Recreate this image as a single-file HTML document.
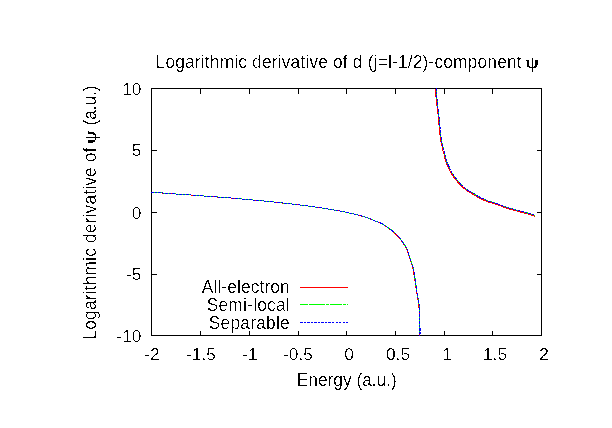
<!DOCTYPE html>
<html><head><meta charset="utf-8"><title>Logarithmic derivative</title>
<style>html,body{margin:0;padding:0;background:#fff}svg{display:block}text{font-family:"Liberation Sans",sans-serif;font-size:17.33px;fill:#000}</style></head><body>
<svg width="612" height="428" viewBox="0 0 612 428">
<rect width="612" height="428" fill="#fff"/>
<g shape-rendering="crispEdges" fill="#000">
<rect x="151" y="88" width="391" height="1"/><rect x="151" y="335" width="391" height="1"/><rect x="151" y="88" width="1" height="248"/><rect x="541" y="88" width="1" height="248"/>
<rect x="200" y="88" width="1" height="6"/><rect x="200" y="331" width="1" height="5"/>
<rect x="249" y="88" width="1" height="6"/><rect x="249" y="331" width="1" height="5"/>
<rect x="298" y="88" width="1" height="6"/><rect x="298" y="331" width="1" height="5"/>
<rect x="346" y="88" width="1" height="6"/><rect x="346" y="331" width="1" height="5"/>
<rect x="395" y="88" width="1" height="6"/><rect x="395" y="331" width="1" height="5"/>
<rect x="444" y="88" width="1" height="6"/><rect x="444" y="331" width="1" height="5"/>
<rect x="492" y="88" width="1" height="6"/><rect x="492" y="331" width="1" height="5"/>
<rect x="151" y="150" width="6" height="1"/><rect x="537" y="150" width="5" height="1"/>
<rect x="151" y="212" width="6" height="1"/><rect x="537" y="212" width="5" height="1"/>
<rect x="151" y="274" width="6" height="1"/><rect x="537" y="274" width="5" height="1"/>
</g>
<g fill="none" stroke-width="1" shape-rendering="crispEdges">
<path d="M151.1,192.3 L152.5,192.4 L153.9,192.5 L155.2,192.6 L156.6,192.7 L158.0,192.8 L159.4,192.9 L160.7,192.9 L162.1,193.0 L163.5,193.1 L164.9,193.2 L166.3,193.3 L167.6,193.4 L169.0,193.5 L170.4,193.6 L171.8,193.7 L173.1,193.8 L174.5,193.9 L175.9,194.0 L177.3,194.0 L178.7,194.1 L180.0,194.2 L181.4,194.3 L182.8,194.4 L184.2,194.5 L185.5,194.6 L186.9,194.7 L188.3,194.8 L189.7,194.9 L191.0,195.0 L192.4,195.1 L193.8,195.2 L195.2,195.3 L196.6,195.5 L197.9,195.6 L199.3,195.7 L200.7,195.8 L202.1,195.9 L203.4,196.0 L204.8,196.1 L206.2,196.2 L207.6,196.3 L208.9,196.4 L210.3,196.5 L211.7,196.6 L213.1,196.7 L214.5,196.8 L215.8,196.9 L217.2,197.0 L218.6,197.1 L220.0,197.2 L221.3,197.3 L222.7,197.4 L224.1,197.5 L225.5,197.6 L226.8,197.7 L228.2,197.8 L229.6,197.9 L231.0,198.0 L232.3,198.1 L233.7,198.3 L235.1,198.4 L236.5,198.5 L237.8,198.7 L239.2,198.8 L240.6,198.9 L242.0,199.0 L243.3,199.2 L244.7,199.3 L246.1,199.4 L247.5,199.5 L248.8,199.7 L250.2,199.8 L251.6,199.9 L253.0,200.0 L254.3,200.2 L255.7,200.3 L257.1,200.4 L258.5,200.5 L259.8,200.7 L261.2,200.8 L262.6,200.9 L264.0,201.0 L265.3,201.2 L266.7,201.3 L268.1,201.4 L269.5,201.6 L270.8,201.7 L272.2,201.9 L273.6,202.0 L275.0,202.1 L276.3,202.3 L277.7,202.4 L279.1,202.6 L280.4,202.8 L281.8,202.9 L283.2,203.1 L284.6,203.2 L285.9,203.4 L287.3,203.5 L288.7,203.7 L290.1,203.8 L291.4,204.0 L292.8,204.1 L294.2,204.3 L295.5,204.5 L296.9,204.7 L298.3,204.8 L299.6,205.0 L301.0,205.2 L302.4,205.3 L303.8,205.5 L305.1,205.7 L306.5,205.9 L307.9,206.0 L309.2,206.2 L310.6,206.4 L312.0,206.6 L313.3,206.8 L314.7,207.0 L316.1,207.2 L317.4,207.4 L318.8,207.6 L320.2,207.8 L321.5,208.0 L322.9,208.2 L324.3,208.4 L325.6,208.7 L327.0,208.9 L328.3,209.1 L329.7,209.4 L331.1,209.6 L332.4,209.8 L333.8,210.0 L335.2,210.3 L336.5,210.5 L337.9,210.7 L339.2,210.9 L340.6,211.2 L342.0,211.4 L343.3,211.7 L344.7,212.0 L346.0,212.3 L347.3,212.7 L348.7,213.0 L350.0,213.3 L351.4,213.6 L352.7,213.8 L354.1,214.1 L355.4,214.4 L356.8,214.8 L358.1,215.1 L359.4,215.4 L360.8,215.8 L362.1,216.2 L363.4,216.6 L364.7,217.0 L366.0,217.5 L367.4,217.9 L368.7,218.3 L370.0,218.8 L371.2,219.3 L372.5,219.9 L373.7,220.5 L375.0,221.0 L376.3,221.5 L377.6,221.9 L378.9,222.4 L380.2,223.0 L381.4,223.6 L382.6,224.3 L383.8,225.0 L384.9,225.8 L386.1,226.5 L387.2,227.3 L388.4,228.1 L389.5,228.9 L390.6,229.7 L391.7,230.6 L392.8,231.5 L393.8,232.3 L394.8,233.3 L395.9,234.2 L396.9,235.2 L397.8,236.2 L398.7,237.2 L399.6,238.3 L400.4,239.4 L401.2,240.5 L402.0,241.6 L402.8,242.8 L403.6,243.9 L404.3,245.1 L405.0,246.3 L405.7,247.5 L406.4,248.7 L406.9,249.9 L407.4,251.2 L407.8,252.5 L408.3,253.9 L408.7,255.2 L409.1,256.5 L409.5,257.8 L410.0,259.1 L410.4,260.4 L410.9,261.7 L411.3,263.0 L411.7,264.3 L412.1,265.7 L412.5,267.0 L412.9,268.3 L413.2,269.7 L413.4,271.0 L413.7,272.4 L413.9,273.8 L414.1,275.1 L414.3,276.5 L414.5,277.8 L414.7,279.2 L414.9,280.6 L415.1,282.0 L415.3,283.3 L415.5,284.7 L415.7,286.1 L415.9,287.4 L416.1,288.8 L416.3,290.1 L416.6,291.5 L416.8,292.9 L417.0,294.2 L417.2,295.6 L417.4,297.0 L417.7,298.3 L417.9,299.7 L418.1,301.0 L418.4,302.4 L418.6,303.8 L418.8,305.1 L418.9,306.5 L419.0,307.9 L419.0,309.3 L419.0,310.6 L419.1,312.0 L419.1,313.4 L419.1,314.8 L419.1,316.2 L419.1,317.5 L419.1,318.9 L419.1,320.3 L419.1,321.7 L419.1,323.1 L419.1,324.5 L419.1,325.8 L419.1,327.2 L419.1,328.6 L419.1,330.0 L419.1,331.4 L419.1,332.7 L419.1,334.1 L419.1,335.5" stroke="#f00"/><path d="M435.4,89.2 L435.5,90.3 L435.6,91.5 L435.6,92.6 L435.7,93.8 L435.8,94.9 L435.9,96.1 L436.0,97.2 L436.1,98.4 L436.2,99.5 L436.4,100.6 L436.5,101.8 L436.6,102.9 L436.8,104.1 L436.9,105.2 L437.1,106.3 L437.2,107.5 L437.3,108.6 L437.5,109.8 L437.6,110.9 L437.7,112.0 L437.8,113.2 L438.0,114.3 L438.1,115.5 L438.2,116.6 L438.3,117.8 L438.5,118.9 L438.6,120.0 L438.7,121.2 L438.8,122.3 L438.9,123.5 L439.0,124.6 L439.1,125.8 L439.2,126.9 L439.3,128.0 L439.5,129.2 L439.6,130.3 L439.7,131.5 L439.8,132.6 L439.9,133.8 L440.0,134.9 L440.1,136.0 L440.3,137.2 L440.4,138.3 L440.6,139.5 L440.8,140.6 L441.0,141.7 L441.2,142.9 L441.5,144.0 L441.7,145.1 L442.0,146.2 L442.2,147.3 L442.5,148.5 L442.8,149.6 L443.0,150.7 L443.3,151.8 L443.6,152.9 L443.9,154.0 L444.2,155.1 L444.5,156.2 L444.8,157.4 L445.0,158.5 L445.3,159.6 L445.6,160.7 L445.9,161.8 L446.2,162.9 L446.7,164.0 L447.2,165.0 L447.7,166.0 L448.2,167.1 L448.7,168.1 L449.2,169.1 L449.7,170.2 L450.2,171.2 L450.7,172.3 L451.2,173.3 L451.8,174.2 L452.4,175.2 L453.1,176.2 L453.8,177.1 L454.4,178.0 L455.1,178.9 L455.8,179.8 L456.5,180.7 L457.3,181.6 L458.0,182.5 L458.8,183.4 L459.5,184.2 L460.3,185.1 L461.1,185.9 L462.0,186.7 L462.8,187.4 L463.7,188.2 L464.6,188.9 L465.5,189.6 L466.4,190.3 L467.3,191.0 L468.3,191.6 L469.3,192.2 L470.3,192.7 L471.3,193.3 L472.3,193.8 L473.3,194.4 L474.3,195.0 L475.3,195.7 L476.2,196.3 L477.2,196.9 L478.2,197.4 L479.2,197.9 L480.3,198.5 L481.3,198.9 L482.3,199.4 L483.4,199.9 L484.4,200.4 L485.5,200.8 L486.6,201.3 L487.6,201.7 L488.7,202.1 L489.8,202.4 L490.9,202.7 L492.0,203.0 L493.1,203.3 L494.2,203.6 L495.3,204.0 L496.4,204.3 L497.5,204.7 L498.6,205.1 L499.7,205.5 L500.7,205.9 L501.8,206.4 L502.9,206.8 L503.9,207.2 L505.0,207.6 L506.1,207.9 L507.2,208.3 L508.3,208.6 L509.4,209.0 L510.5,209.3 L511.6,209.6 L512.7,209.9 L513.8,210.2 L514.9,210.5 L516.0,210.8 L517.1,211.1 L518.3,211.4 L519.4,211.7 L520.5,212.0 L521.6,212.3 L522.7,212.6 L523.8,212.9 L524.9,213.2 L526.0,213.5 L527.1,213.8 L528.2,214.2 L529.3,214.5 L530.4,214.8 L531.5,215.2 L532.6,215.5 L533.7,215.9 L534.8,216.2" stroke="#f00"/>
<path d="M151.5,192.3 L152.9,192.4 L154.3,192.5 L155.6,192.6 L157.0,192.7 L158.4,192.8 L159.8,192.9 L161.1,192.9 L162.5,193.0 L163.9,193.1 L165.3,193.2 L166.7,193.3 L168.0,193.4 L169.4,193.5 L170.8,193.6 L172.2,193.7 L173.5,193.8 L174.9,193.9 L176.3,194.0 L177.7,194.0 L179.1,194.1 L180.4,194.2 L181.8,194.3 L183.2,194.4 L184.6,194.5 L185.9,194.6 L187.3,194.7 L188.7,194.8 L190.1,194.9 L191.4,195.0 L192.8,195.1 L194.2,195.2 L195.6,195.3 L197.0,195.5 L198.3,195.6 L199.7,195.7 L201.1,195.8 L202.5,195.9 L203.8,196.0 L205.2,196.1 L206.6,196.2 L208.0,196.3 L209.3,196.4 L210.7,196.5 L212.1,196.6 L213.5,196.7 L214.9,196.8 L216.2,196.9 L217.6,197.0 L219.0,197.1 L220.4,197.2 L221.7,197.3 L223.1,197.4 L224.5,197.5 L225.9,197.6 L227.2,197.7 L228.6,197.8 L230.0,197.9 L231.4,198.0 L232.7,198.1 L234.1,198.3 L235.5,198.4 L236.9,198.5 L238.2,198.7 L239.6,198.8 L241.0,198.9 L242.4,199.0 L243.7,199.2 L245.1,199.3 L246.5,199.4 L247.9,199.5 L249.2,199.7 L250.6,199.8 L252.0,199.9 L253.4,200.0 L254.7,200.2 L256.1,200.3 L257.5,200.4 L258.9,200.5 L260.2,200.7 L261.6,200.8 L263.0,200.9 L264.4,201.0 L265.7,201.2 L267.1,201.3 L268.5,201.4 L269.9,201.6 L271.2,201.7 L272.6,201.9 L274.0,202.0 L275.4,202.1 L276.7,202.3 L278.1,202.4 L279.5,202.6 L280.8,202.8 L282.2,202.9 L283.6,203.1 L285.0,203.2 L286.3,203.4 L287.7,203.5 L289.1,203.7 L290.5,203.8 L291.8,204.0 L293.2,204.1 L294.6,204.3 L295.9,204.5 L297.3,204.7 L298.7,204.8 L300.0,205.0 L301.4,205.2 L302.8,205.3 L304.2,205.5 L305.5,205.7 L306.9,205.9 L308.3,206.0 L309.6,206.2 L311.0,206.4 L312.4,206.6 L313.7,206.8 L315.1,207.0 L316.5,207.2 L317.8,207.4 L319.2,207.6 L320.6,207.8 L321.9,208.0 L323.3,208.2 L324.7,208.4 L326.0,208.7 L327.4,208.9 L328.7,209.1 L330.1,209.4 L331.5,209.6 L332.8,209.8 L334.2,210.0 L335.6,210.3 L336.9,210.5 L338.3,210.7 L339.6,210.9 L341.0,211.2 L342.4,211.4 L343.7,211.7 L345.1,212.0 L346.4,212.3 L347.7,212.7 L349.1,213.0 L350.4,213.3 L351.8,213.6 L353.1,213.8 L354.5,214.1 L355.8,214.4 L357.2,214.8 L358.5,215.1 L359.8,215.4 L361.2,215.8 L362.5,216.2 L363.8,216.6 L365.1,217.0 L366.4,217.5 L367.8,217.9 L369.1,218.3 L370.4,218.8 L371.6,219.3 L372.9,219.9 L374.1,220.5 L375.4,221.0 L376.7,221.5 L378.0,221.9 L379.3,222.4 L380.6,223.0 L381.8,223.6 L383.0,224.3 L384.2,225.0 L385.3,225.8 L386.5,226.5 L387.6,227.3 L388.8,228.1 L389.9,228.9 L391.0,229.7 L392.1,230.6 L393.2,231.5 L394.2,232.3 L395.2,233.3 L396.3,234.2 L397.3,235.2 L398.2,236.2 L399.1,237.2 L400.0,238.3 L400.8,239.4 L401.6,240.5 L402.4,241.6 L403.2,242.8 L404.0,243.9 L404.7,245.1 L405.4,246.3 L406.1,247.5 L406.8,248.7 L407.3,249.9 L407.8,251.2 L408.2,252.5 L408.7,253.9 L409.1,255.2 L409.5,256.5 L409.9,257.8 L410.4,259.1 L410.8,260.4 L411.3,261.7 L411.7,263.0 L412.1,264.3 L412.5,265.7 L412.9,267.0 L413.3,268.3 L413.6,269.7 L413.8,271.0 L414.1,272.4 L414.3,273.8 L414.5,275.1 L414.7,276.5 L414.9,277.8 L415.1,279.2 L415.3,280.6 L415.5,282.0 L415.7,283.3 L415.9,284.7 L416.1,286.1 L416.3,287.4 L416.5,288.8 L416.7,290.1 L417.0,291.5 L417.2,292.9 L417.4,294.2 L417.6,295.6 L417.8,297.0 L418.1,298.3 L418.3,299.7 L418.5,301.0 L418.8,302.4 L419.0,303.8 L419.2,305.1 L419.3,306.5 L419.4,307.9 L419.4,309.3 L419.4,310.6 L419.5,312.0 L419.5,313.4 L419.5,314.8 L419.5,316.2 L419.5,317.5 L419.5,318.9 L419.5,320.3 L419.5,321.7 L419.5,323.1 L419.5,324.5 L419.5,325.8 L419.5,327.2 L419.5,328.6 L419.5,330.0 L419.5,331.4 L419.5,332.7 L419.5,334.1 L419.5,335.5" stroke="#0f0" stroke-dasharray="16 1 3 1"/><path d="M436.1,88.5 L436.2,89.6 L436.3,90.8 L436.3,91.9 L436.4,93.1 L436.5,94.2 L436.6,95.4 L436.7,96.5 L436.8,97.7 L436.9,98.8 L437.1,99.9 L437.2,101.1 L437.3,102.2 L437.5,103.4 L437.6,104.5 L437.8,105.6 L437.9,106.8 L438.0,107.9 L438.2,109.1 L438.3,110.2 L438.4,111.3 L438.5,112.5 L438.7,113.6 L438.8,114.8 L438.9,115.9 L439.0,117.1 L439.2,118.2 L439.3,119.3 L439.4,120.5 L439.5,121.6 L439.6,122.8 L439.7,123.9 L439.8,125.1 L439.9,126.2 L440.0,127.3 L440.2,128.5 L440.3,129.6 L440.4,130.8 L440.5,131.9 L440.6,133.1 L440.7,134.2 L440.8,135.3 L441.0,136.5 L441.1,137.6 L441.3,138.8 L441.5,139.9 L441.7,141.0 L441.9,142.2 L442.2,143.3 L442.4,144.4 L442.7,145.5 L442.9,146.6 L443.2,147.8 L443.5,148.9 L443.7,150.0 L444.0,151.1 L444.3,152.2 L444.6,153.3 L444.9,154.4 L445.2,155.5 L445.5,156.7 L445.7,157.8 L446.0,158.9 L446.3,160.0 L446.6,161.1 L446.9,162.2 L447.4,163.3 L447.9,164.3 L448.4,165.3 L448.9,166.4 L449.4,167.4 L449.9,168.4 L450.4,169.5 L450.9,170.5 L451.4,171.6 L451.9,172.6 L452.5,173.5 L453.1,174.5 L453.8,175.5 L454.5,176.4 L455.1,177.3 L455.8,178.2 L456.5,179.1 L457.2,180.0 L458.0,180.9 L458.7,181.8 L459.5,182.7 L460.2,183.5 L461.0,184.4 L461.8,185.2 L462.7,186.0 L463.5,186.7 L464.4,187.5 L465.3,188.2 L466.2,188.9 L467.1,189.6 L468.0,190.3 L469.0,190.9 L470.0,191.5 L471.0,192.0 L472.0,192.6 L473.0,193.1 L474.0,193.7 L475.0,194.3 L476.0,195.0 L476.9,195.6 L477.9,196.2 L478.9,196.7 L479.9,197.2 L481.0,197.8 L482.0,198.2 L483.0,198.7 L484.1,199.2 L485.1,199.7 L486.2,200.1 L487.3,200.6 L488.3,201.0 L489.4,201.4 L490.5,201.7 L491.6,202.0 L492.7,202.3 L493.8,202.6 L494.9,202.9 L496.0,203.3 L497.1,203.6 L498.2,204.0 L499.3,204.4 L500.4,204.8 L501.4,205.2 L502.5,205.7 L503.6,206.1 L504.6,206.5 L505.7,206.9 L506.8,207.2 L507.9,207.6 L509.0,207.9 L510.1,208.3 L511.2,208.6 L512.3,208.9 L513.4,209.2 L514.5,209.5 L515.6,209.8 L516.7,210.1 L517.8,210.4 L519.0,210.7 L520.1,211.0 L521.2,211.3 L522.3,211.6 L523.4,211.9 L524.5,212.2 L525.6,212.5 L526.7,212.8 L527.8,213.1 L528.9,213.5 L530.0,213.8 L531.1,214.1 L532.2,214.5 L533.3,214.8 L534.4,215.2 L535.5,215.5" stroke="#0f0" stroke-dasharray="16 1 3 1"/>
<path d="M151.5,192.3 L152.9,192.4 L154.3,192.5 L155.6,192.6 L157.0,192.7 L158.4,192.8 L159.8,192.9 L161.1,192.9 L162.5,193.0 L163.9,193.1 L165.3,193.2 L166.7,193.3 L168.0,193.4 L169.4,193.5 L170.8,193.6 L172.2,193.7 L173.5,193.8 L174.9,193.9 L176.3,194.0 L177.7,194.0 L179.1,194.1 L180.4,194.2 L181.8,194.3 L183.2,194.4 L184.6,194.5 L185.9,194.6 L187.3,194.7 L188.7,194.8 L190.1,194.9 L191.4,195.0 L192.8,195.1 L194.2,195.2 L195.6,195.3 L197.0,195.5 L198.3,195.6 L199.7,195.7 L201.1,195.8 L202.5,195.9 L203.8,196.0 L205.2,196.1 L206.6,196.2 L208.0,196.3 L209.3,196.4 L210.7,196.5 L212.1,196.6 L213.5,196.7 L214.9,196.8 L216.2,196.9 L217.6,197.0 L219.0,197.1 L220.4,197.2 L221.7,197.3 L223.1,197.4 L224.5,197.5 L225.9,197.6 L227.2,197.7 L228.6,197.8 L230.0,197.9 L231.4,198.0 L232.7,198.1 L234.1,198.3 L235.5,198.4 L236.9,198.5 L238.2,198.7 L239.6,198.8 L241.0,198.9 L242.4,199.0 L243.7,199.2 L245.1,199.3 L246.5,199.4 L247.9,199.5 L249.2,199.7 L250.6,199.8 L252.0,199.9 L253.4,200.0 L254.7,200.2 L256.1,200.3 L257.5,200.4 L258.9,200.5 L260.2,200.7 L261.6,200.8 L263.0,200.9 L264.4,201.0 L265.7,201.2 L267.1,201.3 L268.5,201.4 L269.9,201.6 L271.2,201.7 L272.6,201.9 L274.0,202.0 L275.4,202.1 L276.7,202.3 L278.1,202.4 L279.5,202.6 L280.8,202.8 L282.2,202.9 L283.6,203.1 L285.0,203.2 L286.3,203.4 L287.7,203.5 L289.1,203.7 L290.5,203.8 L291.8,204.0 L293.2,204.1 L294.6,204.3 L295.9,204.5 L297.3,204.7 L298.7,204.8 L300.0,205.0 L301.4,205.2 L302.8,205.3 L304.2,205.5 L305.5,205.7 L306.9,205.9 L308.3,206.0 L309.6,206.2 L311.0,206.4 L312.4,206.6 L313.7,206.8 L315.1,207.0 L316.5,207.2 L317.8,207.4 L319.2,207.6 L320.6,207.8 L321.9,208.0 L323.3,208.2 L324.7,208.4 L326.0,208.7 L327.4,208.9 L328.7,209.1 L330.1,209.4 L331.5,209.6 L332.8,209.8 L334.2,210.0 L335.6,210.3 L336.9,210.5 L338.3,210.7 L339.6,210.9 L341.0,211.2 L342.4,211.4 L343.7,211.7 L345.1,212.0 L346.4,212.3 L347.7,212.7 L349.1,213.0 L350.4,213.3 L351.8,213.6 L353.1,213.8 L354.5,214.1 L355.8,214.4 L357.2,214.8 L358.5,215.1 L359.8,215.4 L361.2,215.8 L362.5,216.2 L363.8,216.6 L365.1,217.0 L366.4,217.5 L367.8,217.9 L369.1,218.3 L370.4,218.8 L371.6,219.3 L372.9,219.9 L374.1,220.5 L375.4,221.0 L376.7,221.5 L378.0,221.9 L379.3,222.4 L380.6,223.0 L381.8,223.6 L383.0,224.3 L384.2,225.0 L385.3,225.8 L386.5,226.5 L387.6,227.3 L388.8,228.1 L389.9,228.9 L391.0,229.7 L392.1,230.6 L393.2,231.5 L394.2,232.3 L395.2,233.3 L396.3,234.2 L397.3,235.2 L398.2,236.2 L399.1,237.2 L400.0,238.3 L400.8,239.4 L401.6,240.5 L402.4,241.6 L403.2,242.8 L404.0,243.9 L404.7,245.1 L405.4,246.3 L406.1,247.5 L406.8,248.7 L407.3,249.9 L407.8,251.2 L408.2,252.5 L408.7,253.9 L409.1,255.2 L409.5,256.5 L409.9,257.8 L410.4,259.1 L410.8,260.4 L411.3,261.7 L411.7,263.0 L412.1,264.3 L412.5,265.7 L412.9,267.0 L413.3,268.3 L413.6,269.7 L413.8,271.0 L414.1,272.4 L414.3,273.8 L414.5,275.1 L414.7,276.5 L414.9,277.8 L415.1,279.2 L415.3,280.6 L415.5,282.0 L415.7,283.3 L415.9,284.7 L416.1,286.1 L416.3,287.4 L416.5,288.8 L416.7,290.1 L417.0,291.5 L417.2,292.9 L417.4,294.2 L417.6,295.6 L417.8,297.0 L418.1,298.3 L418.3,299.7 L418.5,301.0 L418.8,302.4 L419.0,303.8 L419.2,305.1 L419.3,306.5 L419.4,307.9 L419.4,309.3 L419.4,310.6 L419.5,312.0 L419.5,313.4 L419.5,314.8 L419.5,316.2 L419.5,317.5 L419.5,318.9 L419.5,320.3 L419.5,321.7 L419.5,323.1 L419.5,324.5 L419.5,325.8 L419.5,327.2 L419.5,328.6 L419.5,330.0 L419.5,331.4 L419.5,332.7 L419.5,334.1 L419.5,335.5" stroke="#00f" stroke-dasharray="3 1 2 1"/><path d="M436.1,88.5 L436.2,89.6 L436.3,90.8 L436.3,91.9 L436.4,93.1 L436.5,94.2 L436.6,95.4 L436.7,96.5 L436.8,97.7 L436.9,98.8 L437.1,99.9 L437.2,101.1 L437.3,102.2 L437.5,103.4 L437.6,104.5 L437.8,105.6 L437.9,106.8 L438.0,107.9 L438.2,109.1 L438.3,110.2 L438.4,111.3 L438.5,112.5 L438.7,113.6 L438.8,114.8 L438.9,115.9 L439.0,117.1 L439.2,118.2 L439.3,119.3 L439.4,120.5 L439.5,121.6 L439.6,122.8 L439.7,123.9 L439.8,125.1 L439.9,126.2 L440.0,127.3 L440.2,128.5 L440.3,129.6 L440.4,130.8 L440.5,131.9 L440.6,133.1 L440.7,134.2 L440.8,135.3 L441.0,136.5 L441.1,137.6 L441.3,138.8 L441.5,139.9 L441.7,141.0 L441.9,142.2 L442.2,143.3 L442.4,144.4 L442.7,145.5 L442.9,146.6 L443.2,147.8 L443.5,148.9 L443.7,150.0 L444.0,151.1 L444.3,152.2 L444.6,153.3 L444.9,154.4 L445.2,155.5 L445.5,156.7 L445.7,157.8 L446.0,158.9 L446.3,160.0 L446.6,161.1 L446.9,162.2 L447.4,163.3 L447.9,164.3 L448.4,165.3 L448.9,166.4 L449.4,167.4 L449.9,168.4 L450.4,169.5 L450.9,170.5 L451.4,171.6 L451.9,172.6 L452.5,173.5 L453.1,174.5 L453.8,175.5 L454.5,176.4 L455.1,177.3 L455.8,178.2 L456.5,179.1 L457.2,180.0 L458.0,180.9 L458.7,181.8 L459.5,182.7 L460.2,183.5 L461.0,184.4 L461.8,185.2 L462.7,186.0 L463.5,186.7 L464.4,187.5 L465.3,188.2 L466.2,188.9 L467.1,189.6 L468.0,190.3 L469.0,190.9 L470.0,191.5 L471.0,192.0 L472.0,192.6 L473.0,193.1 L474.0,193.7 L475.0,194.3 L476.0,195.0 L476.9,195.6 L477.9,196.2 L478.9,196.7 L479.9,197.2 L481.0,197.8 L482.0,198.2 L483.0,198.7 L484.1,199.2 L485.1,199.7 L486.2,200.1 L487.3,200.6 L488.3,201.0 L489.4,201.4 L490.5,201.7 L491.6,202.0 L492.7,202.3 L493.8,202.6 L494.9,202.9 L496.0,203.3 L497.1,203.6 L498.2,204.0 L499.3,204.4 L500.4,204.8 L501.4,205.2 L502.5,205.7 L503.6,206.1 L504.6,206.5 L505.7,206.9 L506.8,207.2 L507.9,207.6 L509.0,207.9 L510.1,208.3 L511.2,208.6 L512.3,208.9 L513.4,209.2 L514.5,209.5 L515.6,209.8 L516.7,210.1 L517.8,210.4 L519.0,210.7 L520.1,211.0 L521.2,211.3 L522.3,211.6 L523.4,211.9 L524.5,212.2 L525.6,212.5 L526.7,212.8 L527.8,213.1 L528.9,213.5 L530.0,213.8 L531.1,214.1 L532.2,214.5 L533.3,214.8 L534.4,215.2 L535.5,215.5" stroke="#00f" stroke-dasharray="3 1 2 1"/>
<rect x="420" y="328" width="1" height="3" fill="#00f" stroke="none"/><rect x="420" y="332" width="1" height="2" fill="#00f" stroke="none"/>
</g>
<g shape-rendering="crispEdges">
<rect x="300" y="287" width="48" height="1" fill="#f00"/>
<rect x="300" y="304" width="8" height="1" fill="#0f0"/>
<rect x="309" y="304" width="16" height="1" fill="#0f0"/>
<rect x="326" y="304" width="3" height="1" fill="#0f0"/>
<rect x="330" y="304" width="12" height="1" fill="#0f0"/>
<rect x="343" y="304" width="3" height="1" fill="#0f0"/>
<rect x="347" y="304" width="1" height="1" fill="#0f0"/>
<rect x="300" y="322" width="3" height="1" fill="#00f"/>
<rect x="304" y="322" width="2" height="1" fill="#00f"/>
<rect x="307" y="322" width="3" height="1" fill="#00f"/>
<rect x="311" y="322" width="2" height="1" fill="#00f"/>
<rect x="314" y="322" width="3" height="1" fill="#00f"/>
<rect x="318" y="322" width="2" height="1" fill="#00f"/>
<rect x="321" y="322" width="3" height="1" fill="#00f"/>
<rect x="325" y="322" width="2" height="1" fill="#00f"/>
<rect x="328" y="322" width="3" height="1" fill="#00f"/>
<rect x="332" y="322" width="2" height="1" fill="#00f"/>
<rect x="336" y="322" width="2" height="1" fill="#00f"/>
<rect x="339" y="322" width="2" height="1" fill="#00f"/>
<rect x="343" y="322" width="2" height="1" fill="#00f"/>
<rect x="346" y="322" width="2" height="1" fill="#00f"/>
</g>
<defs><filter id="thr" x="0" y="0" width="612" height="428" filterUnits="userSpaceOnUse" color-interpolation-filters="sRGB"><feComponentTransfer><feFuncA type="discrete" tableValues="0 0 0 0 0 0 0 0 0 0 0 0 1 1 1 1 1 1 1 1"/></feComponentTransfer></filter></defs>
<g filter="url(#thr)">
<text transform="translate(155.6,68) scale(1,1.05)" text-anchor="start" textLength="366" lengthAdjust="spacing">Logarithmic derivative of d (j=l-1/2)-component</text>
<text transform="translate(525.5,68.4) scale(1,0.9)" text-anchor="start" style="font-family:'Liberation Serif',serif;font-size:19.5px;font-weight:bold">ψ</text>
<text transform="translate(346.8,386) scale(1,1.05)" text-anchor="middle" >Energy (a.u.)</text>
<text transform="translate(96,339.5) rotate(-90) scale(1,1.05)" text-anchor="start" textLength="192" lengthAdjust="spacing">Logarithmic derivative of</text>
<text transform="translate(96.4,144) rotate(-90) scale(1,0.9)" text-anchor="start" style="font-family:'Liberation Serif',serif;font-size:19.5px;font-weight:bold">ψ</text>
<text transform="translate(96,125.5) rotate(-90) scale(1,1.05)" text-anchor="start" textLength="40" lengthAdjust="spacing">(a.u.)</text>
<text transform="translate(152,360) scale(1,1)" text-anchor="middle" >-2</text>
<text transform="translate(201,360) scale(1,1)" text-anchor="middle" >-1.5</text>
<text transform="translate(250,360) scale(1,1)" text-anchor="middle" >-1</text>
<text transform="translate(298,360) scale(1,1)" text-anchor="middle" >-0.5</text>
<text transform="translate(349,360) scale(1,1)" text-anchor="middle" >0</text>
<text transform="translate(398,360) scale(1,1)" text-anchor="middle" >0.5</text>
<text transform="translate(447,360) scale(1,1)" text-anchor="middle" >1</text>
<text transform="translate(495,360) scale(1,1)" text-anchor="middle" >1.5</text>
<text transform="translate(544,360) scale(1,1)" text-anchor="middle" >2</text>
<text transform="translate(141.5,95) scale(1,1)" text-anchor="end" >10</text>
<text transform="translate(141.5,156) scale(1,1)" text-anchor="end" >5</text>
<text transform="translate(141.5,219) scale(1,1)" text-anchor="end" >0</text>
<text transform="translate(141.5,280) scale(1,1)" text-anchor="end" >-5</text>
<text transform="translate(141.5,342) scale(1,1)" text-anchor="end" >-10</text>
<text transform="translate(289.7,292.7) scale(1,1.05)" text-anchor="end" textLength="88" lengthAdjust="spacing">All-electron</text>
<text transform="translate(289.7,310.7) scale(1,1.05)" text-anchor="end" textLength="83" lengthAdjust="spacing">Semi-local</text>
<text transform="translate(289.7,328.7) scale(1,1.05)" text-anchor="end" textLength="81" lengthAdjust="spacing">Separable</text>
</g>
</svg></body></html>
